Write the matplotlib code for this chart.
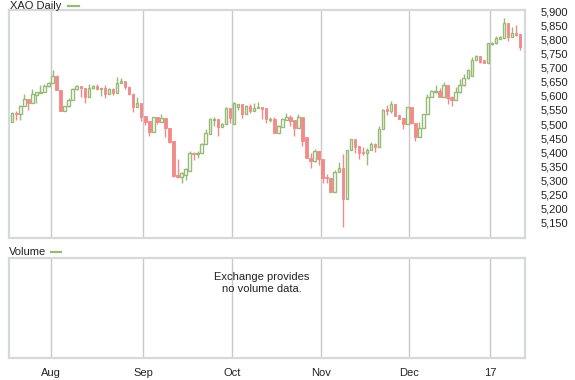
import matplotlib
matplotlib.use('Agg')
import matplotlib.pyplot as plt
from matplotlib.lines import Line2D
import numpy as np

plt.rcParams['font.family'] = ['Liberation Sans', 'DejaVu Sans']
plt.rcParams['font.size'] = 8

# OHLC данные XAO (дневные свечи, с середины июля по середину января)
opens = [5508, 5540, 5534, 5565, 5588, 5574, 5603, 5609, 5613, 5635,
         5645, 5672, 5621, 5548, 5564, 5585, 5623, 5635, 5627, 5597, 5627, 5635, 5623, 5627, 5606, 5623, 5612, 5645, 5653, 5633, 5607, 5559, 5576,
         5529, 5511, 5470, 5524, 5508, 5520, 5485, 5439, 5318, 5310, 5318, 5334, 5397, 5393, 5395, 5429, 5463, 5514, 5518, 5490, 5500, 5558,
         5499, 5562, 5571, 5534, 5564, 5547, 5556, 5559, 5556, 5515, 5518, 5469, 5490, 5516, 5524, 5514, 5487, 5524, 5452, 5380, 5369,
         5405, 5375, 5311, 5306, 5259, 5328, 5342, 5233, 5407, 5446, 5422, 5401, 5398, 5407, 5429, 5417, 5481, 5552, 5547, 5571, 5532, 5520, 5500,
         5562, 5502, 5455, 5487, 5534, 5597, 5613, 5619, 5597, 5639, 5597, 5587, 5613, 5639, 5663, 5671, 5728, 5743, 5728, 5718,
         5785, 5787, 5803, 5808, 5859, 5811, 5825, 5822]
highs = [5544, 5547, 5568, 5607, 5588, 5625, 5613, 5639, 5641, 5650,
         5692, 5675, 5621, 5564, 5591, 5627, 5638, 5635, 5627, 5642, 5639, 5642, 5627, 5639, 5627, 5627, 5666, 5663, 5653, 5635, 5609, 5595, 5576,
         5529, 5511, 5524, 5524, 5536, 5520, 5485, 5439, 5374, 5330, 5345, 5404, 5399, 5404, 5431, 5481, 5520, 5526, 5518, 5502, 5562, 5558,
         5580, 5570, 5571, 5568, 5571, 5574, 5580, 5559, 5556, 5526, 5524, 5496, 5520, 5538, 5532, 5514, 5536, 5524, 5455, 5395, 5411,
         5405, 5375, 5322, 5306, 5336, 5366, 5393, 5407, 5446, 5446, 5422, 5419, 5413, 5436, 5433, 5493, 5552, 5568, 5582, 5571, 5532, 5520, 5562,
         5562, 5502, 5506, 5534, 5607, 5621, 5639, 5627, 5651, 5639, 5601, 5631, 5659, 5678, 5695, 5740, 5746, 5743, 5728, 5790,
         5793, 5813, 5813, 5876, 5859, 5844, 5853, 5822]
lows = [5508, 5514, 5514, 5565, 5550, 5574, 5574, 5609, 5613, 5633,
        5645, 5621, 5548, 5548, 5562, 5585, 5621, 5597, 5574, 5597, 5623, 5621, 5601, 5594, 5606, 5603, 5612, 5645, 5623, 5603, 5544, 5559, 5511,
        5496, 5457, 5470, 5500, 5508, 5455, 5433, 5312, 5306, 5291, 5300, 5334, 5372, 5378, 5395, 5429, 5463, 5493, 5457, 5490, 5500, 5505,
        5499, 5550, 5523, 5534, 5538, 5547, 5556, 5517, 5502, 5508, 5469, 5467, 5490, 5516, 5494, 5457, 5487, 5423, 5378, 5344, 5366,
        5354, 5289, 5289, 5259, 5259, 5328, 5134, 5233, 5407, 5395, 5375, 5389, 5354, 5407, 5399, 5417, 5481, 5532, 5540, 5528, 5518, 5482, 5500,
        5500, 5440, 5455, 5487, 5534, 5595, 5609, 5597, 5597, 5571, 5564, 5587, 5609, 5635, 5659, 5671, 5728, 5716, 5716, 5718,
        5781, 5785, 5802, 5808, 5797, 5811, 5813, 5764]
closes = [5540, 5536, 5565, 5588, 5574, 5607, 5613, 5613, 5635, 5647,
          5672, 5621, 5548, 5564, 5585, 5623, 5635, 5627, 5597, 5627, 5635, 5623, 5627, 5606, 5623, 5612, 5645, 5653, 5631, 5606, 5559, 5576, 5526,
          5508, 5470, 5524, 5508, 5520, 5485, 5437, 5315, 5310, 5324, 5338, 5398, 5392, 5398, 5429, 5467, 5518, 5518, 5490, 5500, 5558, 5523,
          5574, 5570, 5534, 5565, 5547, 5556, 5562, 5553, 5517, 5519, 5469, 5493, 5518, 5524, 5512, 5487, 5524, 5441, 5378, 5369, 5404,
          5374, 5309, 5306, 5259, 5330, 5342, 5233, 5407, 5446, 5419, 5398, 5398, 5407, 5429, 5417, 5482, 5550, 5547, 5571, 5528, 5518, 5500, 5562,
          5502, 5455, 5487, 5534, 5597, 5617, 5617, 5597, 5639, 5594, 5585, 5613, 5639, 5663, 5692, 5728, 5743, 5720, 5718, 5787,
          5790, 5805, 5809, 5859, 5811, 5825, 5817, 5775]

# первые свечи каждого месяца и подписи оси X
month_first = [10, 33, 55, 77, 99, 119]
month_labels = ['Aug', 'Sep', 'Oct', 'Nov', 'Dec', '17']

price_ticks = np.arange(5150, 5901, 50)

up_color = '#97ba76'
down_color = '#f28a8a'
frame_color = '#d4d9dc'
grid_color = '#c9c9c9'

o = np.array(opens)
h = np.array(highs)
l = np.array(lows)
c = np.array(closes)
x = np.arange(len(o))
up = c >= o

fig = plt.figure(figsize=(5.75, 3.8), dpi=100)
ax = fig.add_axes([9 / 575, 1 - 238 / 380, 516 / 575, 228 / 380])
ax_vol = fig.add_axes([9 / 575, 1 - 358 / 380, 516 / 575, 100 / 380], sharex=ax)

grid_pos = [m - 0.5 for m in month_first]

# Свечи: тени и тела
ax.vlines(x[up], l[up], h[up], color=up_color, linewidth=1.0, zorder=2)
ax.vlines(x[~up], l[~up], h[~up], color=down_color, linewidth=1.0, zorder=2)
body_w = 0.62
ax.bar(x[up], c[up] - o[up], bottom=o[up], width=body_w, facecolor='white',
       edgecolor=up_color, linewidth=1.0, zorder=3)
ax.bar(x[~up], o[~up] - c[~up], bottom=c[~up], width=body_w, facecolor=down_color,
       edgecolor=down_color, linewidth=0.6, zorder=3)

for a in (ax, ax_vol):
    for g in grid_pos:
        a.axvline(g, color=grid_color, linewidth=1.0, zorder=1)
    for s in a.spines.values():
        s.set_color(frame_color)
        s.set_linewidth(1.6)

ax.set_xlim(-0.8, len(o) + 0.2)
ax.set_ylim(5094, 5906)
ax.yaxis.tick_right()
ax.set_yticks(price_ticks)
ax.set_yticklabels([f'{v:,}' for v in price_ticks])
ax.tick_params(axis='y', length=0, pad=11, labelsize=8, colors='#222222')
for lab in ax.get_yticklabels():
    lab.set_horizontalalignment('left')
ax.tick_params(axis='x', bottom=False, labelbottom=False)

ax_vol.set_yticks([])
ax_vol.set_xticks(grid_pos)
ax_vol.set_xticklabels(month_labels)
ax_vol.tick_params(axis='x', length=0, pad=7, labelsize=8, colors='#222222')
ax_vol.text(0.49, 0.75, 'Exchange provides\nno volume data.', transform=ax_vol.transAxes,
            ha='center', va='center', fontsize=8, color='#222222', linespacing=1.3)

# Подписи панелей с «легендой»
fig.text(10 / 575, 1 - 6 / 380, 'XAO Daily', ha='left', va='center', fontsize=8, color='#222222')
fig.add_artist(Line2D([68 / 575, 79 / 575], [1 - 6 / 380, 1 - 6 / 380], color=up_color, linewidth=1.6))
fig.text(9 / 575, 1 - 252 / 380, 'Volume', ha='left', va='center', fontsize=8, color='#222222')
fig.add_artist(Line2D([51 / 575, 61 / 575], [1 - 252 / 380, 1 - 252 / 380], color=up_color, linewidth=1.6))

fig.savefig('out.png', dpi=100)
